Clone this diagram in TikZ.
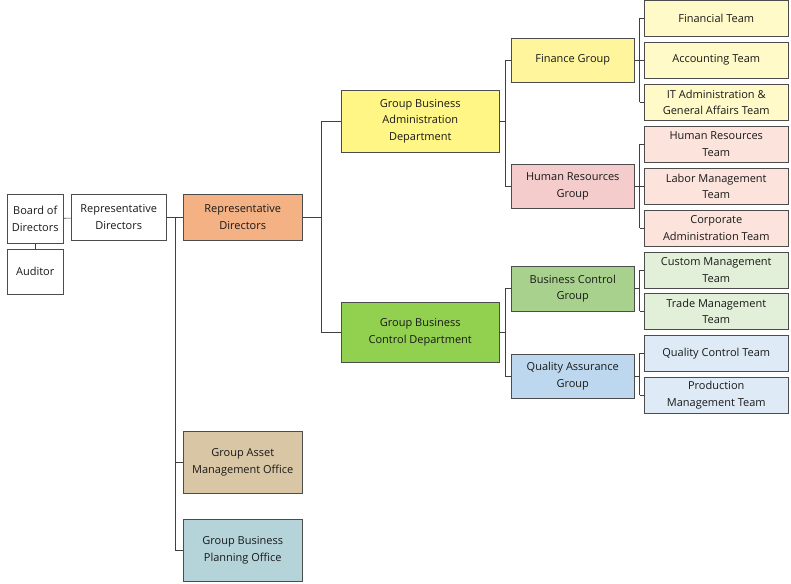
\documentclass[tikz,border=0pt]{standalone}
\usepackage{fontspec}
\setmainfont{Open Sans}
\definecolor{cOr}{HTML}{F4B183}
\definecolor{cYe}{HTML}{FFF685}
\definecolor{cGr}{HTML}{92D050}
\definecolor{cTa}{HTML}{D9C6A5}
\definecolor{cBl}{HTML}{B4D4DA}
\definecolor{cFg}{HTML}{FFF59D}
\definecolor{cHg}{HTML}{F4CCCC}
\definecolor{cBg}{HTML}{A9D18E}
\definecolor{cQg}{HTML}{BDD7EE}
\definecolor{tYe}{HTML}{FFFAC8}
\definecolor{tPi}{HTML}{FCE4DC}
\definecolor{tGr}{HTML}{E2F0D9}
\definecolor{tBl}{HTML}{DEEBF7}
\begin{document}
\begin{tikzpicture}[x=1pt,y=-1pt,
 bx/.style={draw=black!70,line width=0.5pt,align=center,font=\fontsize{11}{16.5}\selectfont,text=black!90,inner sep=0pt},
 ln/.style={draw=black!75,line width=0.6pt}]
\useasboundingbox (0,0) rectangle (791,583);
\newcommand\bxx[7]{\node[bx,fill=#6,minimum width=#3pt,minimum height=#4pt,anchor=north west] (#5) at (#1,#2) {#7};}
\bxx{7}{194}{56}{49}{bod}{white}{Board of\\Directors}
\bxx{7}{249}{56}{45}{aud}{white}{Auditor}
\bxx{71}{194}{95}{46}{rw}{white}{Representative\\Directors}
\bxx{183}{194}{119}{46}{ro}{cOr}{Representative\\Directors}
\bxx{341}{90}{158}{62}{gba}{cYe}{Group Business\\Administration\\Department}
\bxx{341}{302}{158}{60}{gbc}{cGr}{Group Business\\Control Department}
\bxx{183}{431}{119}{62}{gam}{cTa}{Group Asset\\Management Office}
\bxx{183}{519}{119}{62}{gbp}{cBl}{Group Business\\Planning Office}
\bxx{511}{38}{123}{44}{fg}{cFg}{Finance Group}
\bxx{511}{164}{123}{44}{hg}{cHg}{Human Resources\\Group}
\bxx{511}{266}{123}{45}{bg}{cBg}{Business Control\\Group}
\bxx{511}{354}{123}{44}{qg}{cQg}{Quality Assurance\\Group}
\bxx{644}{0}{144}{36}{t1}{tYe}{Financial Team}
\bxx{644}{42}{144}{36}{t2}{tYe}{Accounting Team}
\bxx{644}{84}{144}{36}{t3}{tYe}{IT Administration \&\\General Affairs Team}
\bxx{644}{126}{144}{36}{t4}{tPi}{Human Resources\\Team}
\bxx{644}{168}{144}{36}{t5}{tPi}{Labor Management\\Team}
\bxx{644}{210}{144}{36}{t6}{tPi}{Corporate\\Administration Team}
\bxx{644}{252}{144}{36}{t7}{tGr}{Custom Management\\Team}
\bxx{644}{293}{144}{36}{t8}{tGr}{Trade Management\\Team}
\bxx{644}{335}{144}{36}{t9}{tBl}{Quality Control Team}
\bxx{644}{377}{144}{36}{t10}{tBl}{Production\\Management Team}
\draw[ln] (bod) -- (rw);
\draw[ln] (bod) -- (aud);
\draw[ln] (rw) -- (ro);
\draw[ln] (ro.east) -- ++(19,0) |- (gba.west);
\draw[ln] (ro.east) ++(19,0) |- (gbc.west);
\draw[ln] (ro.south west) ++(-8,-23) |- (gbp.west);
\draw[ln] (ro.south west) ++(-8,0) |- (gam.west);
\draw[ln] (gba.east) -- ++(6,0) coordinate (c1);
\draw[ln] (c1) |- (fg.west); \draw[ln] (c1) |- (hg.west);
\draw[ln] (gbc.east) -- ++(6,0) coordinate (c2);
\draw[ln] (c2) |- (bg.west); \draw[ln] (c2) |- (qg.west);
\foreach \g/\a/\b in {fg/t1/t3,hg/t4/t6,bg/t7/t8,qg/t9/t10}{
 \draw[ln] (\g.east) -- ++(5,0) coordinate (cc);
 \draw[ln] (cc|-\a.west) -- (\a.west);
 \draw[ln] (cc|-\b.west) -- (\b.west);
 \draw[ln] (cc|-\a.west) -- (cc|-\b.west);
}
\draw[ln] (fg.east)++(5,0) -- (t2.west);
\draw[ln] (hg.east)++(5,0) -- (t5.west);
\end{tikzpicture}
\end{document}
